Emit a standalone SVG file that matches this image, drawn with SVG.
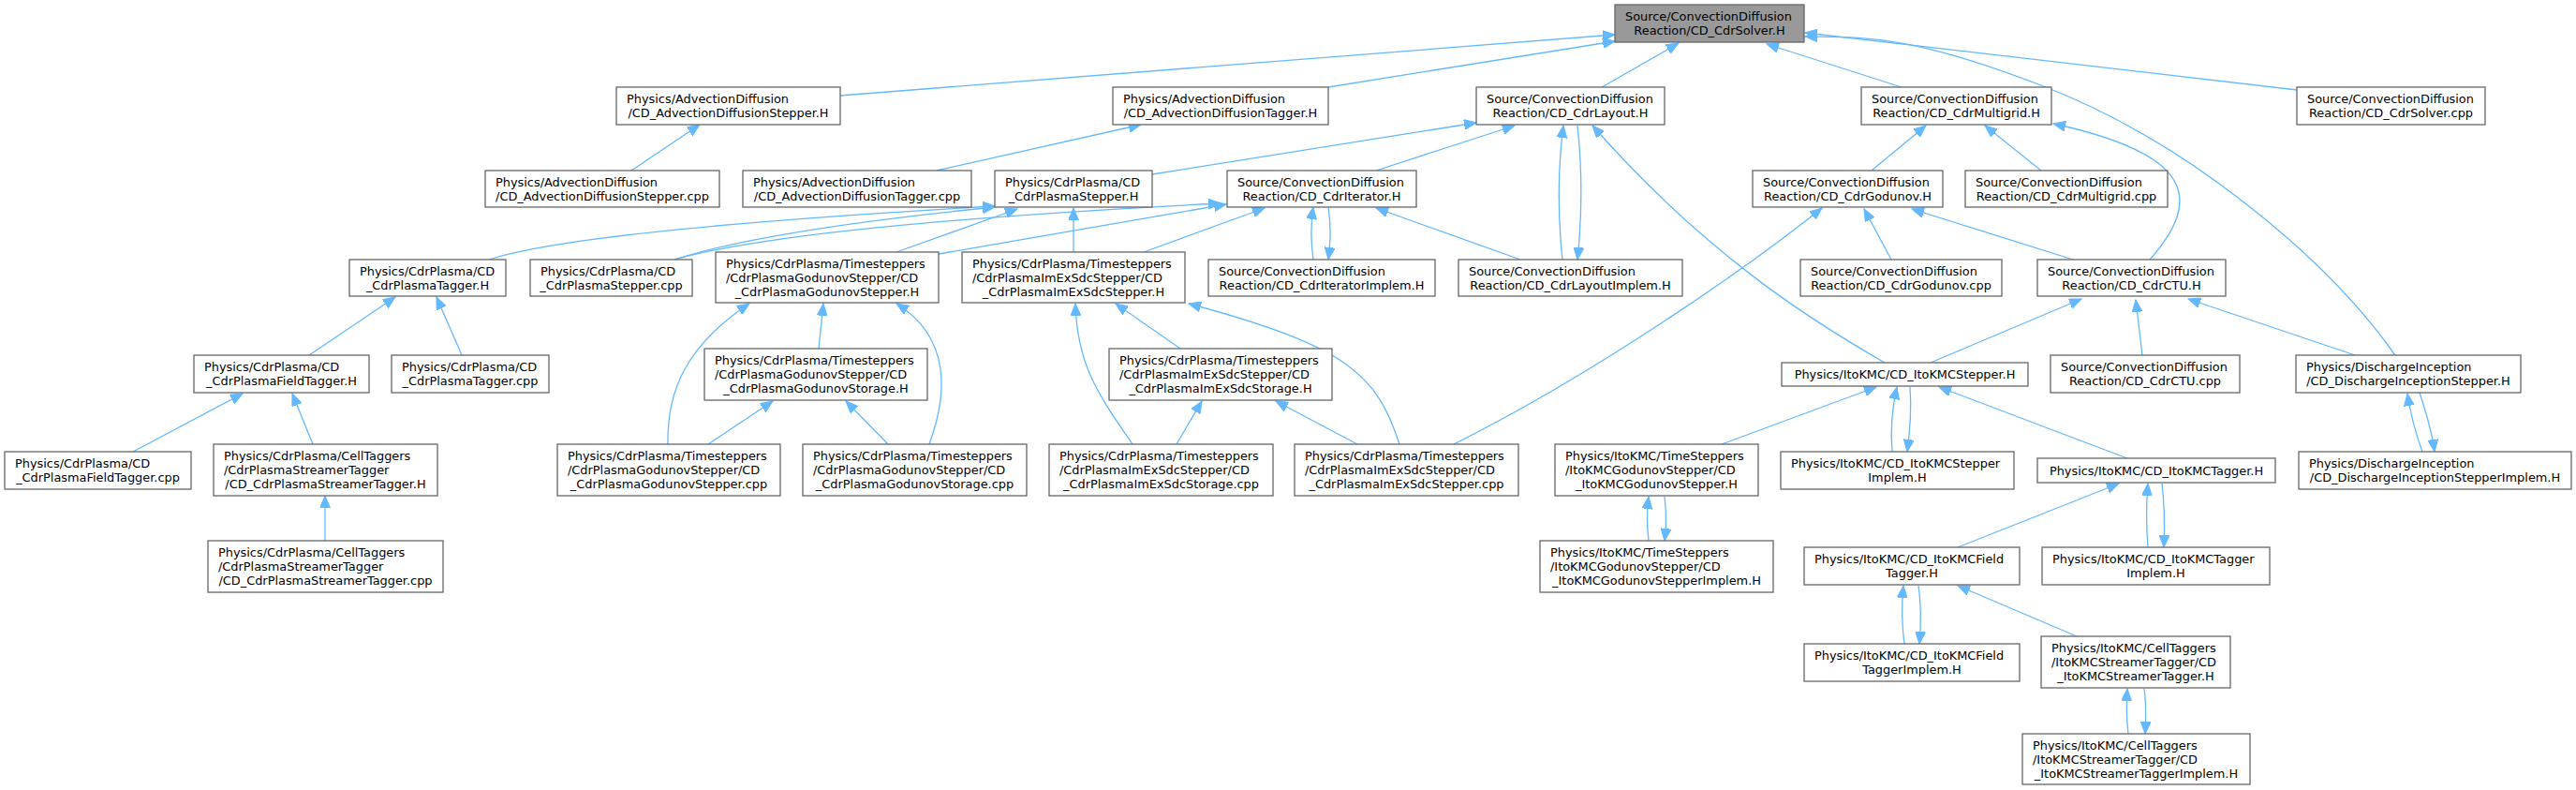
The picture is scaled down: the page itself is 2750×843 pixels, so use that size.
<svg xmlns="http://www.w3.org/2000/svg" width="2750" height="843" viewBox="0 0 2750 843">
<style>
.n rect{fill:#fff;stroke:#666;stroke-width:1.3}
.root rect{fill:#999}
text{font-family:"DejaVu Sans",sans-serif;font-size:12.9px;fill:#000}
.m{text-anchor:middle}
#edges path{fill:none;stroke:#63b8ff;stroke-width:1.3;marker-end:url(#ah)}
</style>
<defs>
<marker id="ah" markerWidth="14" markerHeight="11" refX="13" refY="5.5" orient="auto" markerUnits="userSpaceOnUse"><path d="M0,0 L13,5.5 L0,11 z" fill="#63b8ff" stroke="#63b8ff" stroke-width="1"/></marker>
</defs>
<rect width="2750" height="843" fill="#fff"/>
<g id="edges">
<path d="M897,102 L1724,37"/>
<path d="M1418,93 L1724,44"/>
<path d="M1710,93 L1792,46"/>
<path d="M2030,93 L1886,47"/>
<path d="M2452,96 L1927,35"/>
<path d="M2557,379 C2480,270 2330,150 2184,93 S1990,40 1927,39"/>
<path d="M674,182 L747,133"/>
<path d="M1000,182 L1218,133"/>
<path d="M1230,186 L1576,131"/>
<path d="M1469,182 L1617,134"/>
<path d="M1668,277 C1663,230 1663,180 1669,134"/>
<path d="M1684,134 C1689,180 1689,230 1684,277"/>
<path d="M2012,387 C1930,340 1820,270 1700,134"/>
<path d="M1552,474 C1700,400 1860,290 1945,222"/>
<path d="M1998,182 L2056,134"/>
<path d="M2179,182 L2119,134"/>
<path d="M2295,277 C2350,215 2345,165 2192,132"/>
<path d="M522,277 Q620,245 1062,220"/>
<path d="M720,277 Q820,245 1062,221"/>
<path d="M720,277 Q850,240 1303,217"/>
<path d="M957,269 L1086,223"/>
<path d="M1002,271 L1309,218"/>
<path d="M1146,269 L1146,222"/>
<path d="M1221,269 L1350,222"/>
<path d="M1402,277 C1399,255 1399,240 1402,221"/>
<path d="M1418,221 C1421,240 1421,255 1418,277"/>
<path d="M1623,277 L1469,222"/>
<path d="M2019,277 L1990,223"/>
<path d="M2213,277 L2041,223"/>
<path d="M2061,387 L2222,319"/>
<path d="M2287,379 L2280,320"/>
<path d="M2514,379 L2336,319"/>
<path d="M2586,482 C2578,460 2573,440 2570,420"/>
<path d="M2583,419 C2590,440 2596,460 2599,482"/>
<path d="M1838,474 L2003,413"/>
<path d="M2020,482 C2018,460 2019,440 2025,413"/>
<path d="M2039,413 C2041,440 2039,460 2036,482"/>
<path d="M2271,489 L2070,413"/>
<path d="M1760,577 C1758,560 1758,545 1760,530"/>
<path d="M1777,530 C1779,545 1779,560 1777,577"/>
<path d="M2090,584 L2262,516"/>
<path d="M2293,584 C2291,560 2291,540 2293,516"/>
<path d="M2308,516 C2311,540 2311,560 2310,584"/>
<path d="M2033,687 C2030,665 2030,645 2032,625"/>
<path d="M2048,625 C2051,645 2051,665 2049,687"/>
<path d="M2217,679 L2090,625"/>
<path d="M2272,783 C2270,765 2270,750 2271,735"/>
<path d="M2289,735 C2291,750 2291,765 2290,783"/>
<path d="M330,379 L422,317"/>
<path d="M493,379 L466,317"/>
<path d="M142,482 L259,420"/>
<path d="M334,474 L312,420"/>
<path d="M347,577 L347,529"/>
<path d="M874,372 L879,324"/>
<path d="M713,474 C712,420 730,370 800,324"/>
<path d="M992,474 C1012,420 1015,360 957,324"/>
<path d="M756,474 L825,428"/>
<path d="M948,474 L903,428"/>
<path d="M1260,372 L1191,324"/>
<path d="M1209,474 C1172,420 1150,390 1148,324"/>
<path d="M1494,474 C1470,400 1440,370 1269,324"/>
<path d="M1256,474 L1283,428"/>
<path d="M1449,474 L1362,428"/>
</g>
<g id="n0" class="n root"><rect x="1724" y="5" width="202" height="40"/><text x="1735" y="22">Source/ConvectionDiffusion</text><text class="m" x="1825" y="37">Reaction/CD_CdrSolver.H</text></g>
<g id="n1" class="n"><rect x="658" y="93" width="239" height="40"/><text x="669" y="110">Physics/AdvectionDiffusion</text><text class="m" x="777.5" y="125">/CD_AdvectionDiffusionStepper.H</text></g>
<g id="n2" class="n"><rect x="1188" y="93" width="230" height="40"/><text x="1199" y="110">Physics/AdvectionDiffusion</text><text class="m" x="1303" y="125">/CD_AdvectionDiffusionTagger.H</text></g>
<g id="n3" class="n"><rect x="1576" y="93" width="201" height="40"/><text x="1587" y="110">Source/ConvectionDiffusion</text><text class="m" x="1676.5" y="125">Reaction/CD_CdrLayout.H</text></g>
<g id="n4" class="n"><rect x="1987" y="93" width="203" height="40"/><text x="1998" y="110">Source/ConvectionDiffusion</text><text class="m" x="2088.5" y="125">Reaction/CD_CdrMultigrid.H</text></g>
<g id="n5" class="n"><rect x="2452" y="93" width="201" height="40"/><text x="2463" y="110">Source/ConvectionDiffusion</text><text class="m" x="2552.5" y="125">Reaction/CD_CdrSolver.cpp</text></g>
<g id="n6" class="n"><rect x="518" y="182" width="250" height="39"/><text x="529" y="198.5">Physics/AdvectionDiffusion</text><text class="m" x="643" y="213.5">/CD_AdvectionDiffusionStepper.cpp</text></g>
<g id="n7" class="n"><rect x="793" y="182" width="244" height="39"/><text x="804" y="198.5">Physics/AdvectionDiffusion</text><text class="m" x="915" y="213.5">/CD_AdvectionDiffusionTagger.cpp</text></g>
<g id="n8" class="n"><rect x="1062" y="182" width="168" height="39"/><text x="1073" y="198.5">Physics/CdrPlasma/CD</text><text class="m" x="1146" y="213.5">_CdrPlasmaStepper.H</text></g>
<g id="n9" class="n"><rect x="1310" y="182" width="202" height="39"/><text x="1321" y="198.5">Source/ConvectionDiffusion</text><text class="m" x="1411" y="213.5">Reaction/CD_CdrIterator.H</text></g>
<g id="n10" class="n"><rect x="1871" y="182" width="203" height="39"/><text x="1882" y="198.5">Source/ConvectionDiffusion</text><text class="m" x="1972.5" y="213.5">Reaction/CD_CdrGodunov.H</text></g>
<g id="n11" class="n"><rect x="2098" y="182" width="216" height="39"/><text x="2109" y="198.5">Source/ConvectionDiffusion</text><text class="m" x="2206" y="213.5">Reaction/CD_CdrMultigrid.cpp</text></g>
<g id="n12" class="n"><rect x="373" y="277" width="167" height="39"/><text x="384" y="293.5">Physics/CdrPlasma/CD</text><text class="m" x="456.5" y="308.5">_CdrPlasmaTagger.H</text></g>
<g id="n13" class="n"><rect x="566" y="277" width="173" height="39"/><text x="577" y="293.5">Physics/CdrPlasma/CD</text><text class="m" x="652.5" y="308.5">_CdrPlasmaStepper.cpp</text></g>
<g id="n14" class="n"><rect x="764" y="269" width="238" height="54"/><text x="775" y="285.5">Physics/CdrPlasma/Timesteppers</text><text x="775" y="300.5">/CdrPlasmaGodunovStepper/CD</text><text class="m" x="883" y="315.5">_CdrPlasmaGodunovStepper.H</text></g>
<g id="n15" class="n"><rect x="1027" y="269" width="238" height="54"/><text x="1038" y="285.5">Physics/CdrPlasma/Timesteppers</text><text x="1038" y="300.5">/CdrPlasmaImExSdcStepper/CD</text><text class="m" x="1146" y="315.5">_CdrPlasmaImExSdcStepper.H</text></g>
<g id="n16" class="n"><rect x="1290" y="277" width="242" height="39"/><text x="1301" y="293.5">Source/ConvectionDiffusion</text><text class="m" x="1411" y="308.5">Reaction/CD_CdrIteratorImplem.H</text></g>
<g id="n17" class="n"><rect x="1557" y="277" width="239" height="39"/><text x="1568" y="293.5">Source/ConvectionDiffusion</text><text class="m" x="1676.5" y="308.5">Reaction/CD_CdrLayoutImplem.H</text></g>
<g id="n18" class="n"><rect x="1922" y="277" width="215" height="39"/><text x="1933" y="293.5">Source/ConvectionDiffusion</text><text class="m" x="2029.5" y="308.5">Reaction/CD_CdrGodunov.cpp</text></g>
<g id="n19" class="n"><rect x="2175" y="277" width="201" height="39"/><text x="2186" y="293.5">Source/ConvectionDiffusion</text><text class="m" x="2275.5" y="308.5">Reaction/CD_CdrCTU.H</text></g>
<g id="n20" class="n"><rect x="207" y="379" width="187" height="40"/><text x="218" y="396">Physics/CdrPlasma/CD</text><text class="m" x="300.5" y="411">_CdrPlasmaFieldTagger.H</text></g>
<g id="n21" class="n"><rect x="418" y="379" width="168" height="40"/><text x="429" y="396">Physics/CdrPlasma/CD</text><text class="m" x="502" y="411">_CdrPlasmaTagger.cpp</text></g>
<g id="n22" class="n"><rect x="752" y="372" width="238" height="55"/><text x="763" y="389">Physics/CdrPlasma/Timesteppers</text><text x="763" y="404">/CdrPlasmaGodunovStepper/CD</text><text class="m" x="871" y="419">_CdrPlasmaGodunovStorage.H</text></g>
<g id="n23" class="n"><rect x="1184" y="372" width="238" height="55"/><text x="1195" y="389">Physics/CdrPlasma/Timesteppers</text><text x="1195" y="404">/CdrPlasmaImExSdcStepper/CD</text><text class="m" x="1303" y="419">_CdrPlasmaImExSdcStorage.H</text></g>
<g id="n24" class="n"><rect x="1902" y="387" width="263" height="25"/><text class="m" x="2033.5" y="404">Physics/ItoKMC/CD_ItoKMCStepper.H</text></g>
<g id="n25" class="n"><rect x="2189" y="379" width="202" height="40"/><text x="2200" y="396">Source/ConvectionDiffusion</text><text class="m" x="2290" y="411">Reaction/CD_CdrCTU.cpp</text></g>
<g id="n26" class="n"><rect x="2451" y="379" width="240" height="40"/><text x="2462" y="396">Physics/DischargeInception</text><text class="m" x="2571" y="411">/CD_DischargeInceptionStepper.H</text></g>
<g id="n27" class="n"><rect x="5" y="482" width="199" height="40"/><text x="16" y="499">Physics/CdrPlasma/CD</text><text class="m" x="104.5" y="514">_CdrPlasmaFieldTagger.cpp</text></g>
<g id="n28" class="n"><rect x="228" y="474" width="239" height="55"/><text x="239" y="491">Physics/CdrPlasma/CellTaggers</text><text x="239" y="506">/CdrPlasmaStreamerTagger</text><text class="m" x="347.5" y="521">/CD_CdrPlasmaStreamerTagger.H</text></g>
<g id="n29" class="n"><rect x="595" y="474" width="238" height="55"/><text x="606" y="491">Physics/CdrPlasma/Timesteppers</text><text x="606" y="506">/CdrPlasmaGodunovStepper/CD</text><text class="m" x="714" y="521">_CdrPlasmaGodunovStepper.cpp</text></g>
<g id="n30" class="n"><rect x="857" y="474" width="239" height="55"/><text x="868" y="491">Physics/CdrPlasma/Timesteppers</text><text x="868" y="506">/CdrPlasmaGodunovStepper/CD</text><text class="m" x="976.5" y="521">_CdrPlasmaGodunovStorage.cpp</text></g>
<g id="n31" class="n"><rect x="1120" y="474" width="239" height="55"/><text x="1131" y="491">Physics/CdrPlasma/Timesteppers</text><text x="1131" y="506">/CdrPlasmaImExSdcStepper/CD</text><text class="m" x="1239.5" y="521">_CdrPlasmaImExSdcStorage.cpp</text></g>
<g id="n32" class="n"><rect x="1382" y="474" width="239" height="55"/><text x="1393" y="491">Physics/CdrPlasma/Timesteppers</text><text x="1393" y="506">/CdrPlasmaImExSdcStepper/CD</text><text class="m" x="1501.5" y="521">_CdrPlasmaImExSdcStepper.cpp</text></g>
<g id="n33" class="n"><rect x="1660" y="474" width="217" height="55"/><text x="1671" y="491">Physics/ItoKMC/TimeSteppers</text><text x="1671" y="506">/ItoKMCGodunovStepper/CD</text><text class="m" x="1768.5" y="521">_ItoKMCGodunovStepper.H</text></g>
<g id="n34" class="n"><rect x="1901" y="482" width="249" height="40"/><text x="1912" y="499">Physics/ItoKMC/CD_ItoKMCStepper</text><text class="m" x="2025.5" y="514">Implem.H</text></g>
<g id="n35" class="n"><rect x="2175" y="489" width="254" height="26"/><text class="m" x="2302" y="506.5">Physics/ItoKMC/CD_ItoKMCTagger.H</text></g>
<g id="n36" class="n"><rect x="2454" y="482" width="291" height="40"/><text x="2465" y="499">Physics/DischargeInception</text><text class="m" x="2599.5" y="514">/CD_DischargeInceptionStepperImplem.H</text></g>
<g id="n37" class="n"><rect x="222" y="577" width="251" height="55"/><text x="233" y="594">Physics/CdrPlasma/CellTaggers</text><text x="233" y="609">/CdrPlasmaStreamerTagger</text><text class="m" x="347.5" y="624">/CD_CdrPlasmaStreamerTagger.cpp</text></g>
<g id="n38" class="n"><rect x="1644" y="577" width="249" height="55"/><text x="1655" y="594">Physics/ItoKMC/TimeSteppers</text><text x="1655" y="609">/ItoKMCGodunovStepper/CD</text><text class="m" x="1768.5" y="624">_ItoKMCGodunovStepperImplem.H</text></g>
<g id="n39" class="n"><rect x="1926" y="584" width="230" height="40"/><text x="1937" y="601">Physics/ItoKMC/CD_ItoKMCField</text><text class="m" x="2041" y="616">Tagger.H</text></g>
<g id="n40" class="n"><rect x="2180" y="584" width="243" height="40"/><text x="2191" y="601">Physics/ItoKMC/CD_ItoKMCTagger</text><text class="m" x="2301.5" y="616">Implem.H</text></g>
<g id="n41" class="n"><rect x="1926" y="687" width="230" height="40"/><text x="1937" y="704">Physics/ItoKMC/CD_ItoKMCField</text><text class="m" x="2041" y="719">TaggerImplem.H</text></g>
<g id="n42" class="n"><rect x="2179" y="679" width="202" height="55"/><text x="2190" y="696">Physics/ItoKMC/CellTaggers</text><text x="2190" y="711">/ItoKMCStreamerTagger/CD</text><text class="m" x="2280" y="726">_ItoKMCStreamerTagger.H</text></g>
<g id="n43" class="n"><rect x="2159" y="783" width="243" height="54"/><text x="2170" y="799.5">Physics/ItoKMC/CellTaggers</text><text x="2170" y="814.5">/ItoKMCStreamerTagger/CD</text><text class="m" x="2280.5" y="829.5">_ItoKMCStreamerTaggerImplem.H</text></g>
</svg>
